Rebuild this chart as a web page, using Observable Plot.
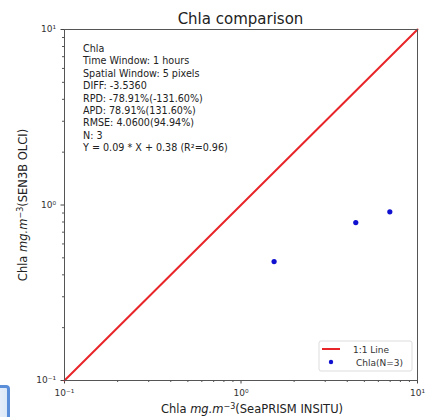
<!DOCTYPE html>
<html><head><meta charset="utf-8">
<script src="https://cdn.jsdelivr.net/npm/d3@7"></script>
<script src="https://cdn.jsdelivr.net/npm/@observablehq/plot@0.6"></script>
<style>
body{margin:0;background:#fff;font-family:"DejaVu Sans",sans-serif}
#wrap{position:relative;width:429px;height:417px;overflow:hidden}
#corner{position:absolute;left:-24px;top:385px;width:28px;height:60px;border:3px solid #5a8ed8;border-radius:4px;background:linear-gradient(90deg,#fff,#dce8f8)}
</style>
</head><body><div id="wrap"><div id="corner"></div></div>
<script>
const insitu = [1.54, 4.47, 6.97];
const satellite = [0.476, 0.794, 0.914];
const oneToOne = [0.1, 10];
const majorTicks = [0.1, 1, 10];
const majorLabels = ["10\u207B\u00B9", "10\u2070", "10\u00B9"];
const minorTicks = [0.2,0.3,0.4,0.5,0.6,0.7,0.8,0.9,2,3,4,5,6,7,8,9];
const titleText = "Chla comparison";
const statsLines = [
  "Chla",
  "Time Window: 1 hours",
  "Spatial Window: 5 pixels",
  "DIFF: -3.5360",
  "RPD: -78.91%(-131.60%)",
  "APD: 78.91%(131.60%)",
  "RMSE: 4.0600(94.94%)",
  "N: 3",
  "Y = 0.09 * X + 0.38 (R\u00B2=0.96)"
];
const legendLabels = ["1:1 Line", "Chla(N=3)"];

const points = insitu.map((x, i) => ({x, y: satellite[i]}));
const line = oneToOne.map(v => ({x: v, y: v}));
const fmt = d => majorLabels[majorTicks.indexOf(d)] ?? "";

const plot = Plot.plot({
  width: 429, height: 417,
  marginLeft: 64, marginRight: 12, marginTop: 29, marginBottom: 37,
  style: {fontFamily: "DejaVu Sans, sans-serif", background: "#fff", color: "#333"},
  x: {type: "log", domain: [0.1, 10]},
  y: {type: "log", domain: [0.1, 10]},
  marks: [
    Plot.axisX({ticks: minorTicks, tickSize: 2, tickFormat: () => "", label: null, stroke: "#555"}),
    Plot.axisY({ticks: minorTicks, tickSize: 2, tickFormat: () => "", label: null, stroke: "#555"}),
    Plot.axisX({ticks: majorTicks, tickSize: 3.5, tickPadding: 6, tickFormat: fmt, label: null, fontSize: 9, stroke: "#444"}),
    Plot.axisY({ticks: majorTicks, tickSize: 3.5, tickPadding: 5, tickFormat: fmt, label: null, fontSize: 9, stroke: "#444"}),
    Plot.line(line, {x: "x", y: "y", stroke: "#e8262a", strokeWidth: 2}),
    Plot.dot(points, {x: "x", y: "y", r: 2.6, fill: "#1010d0", stroke: null}),
    Plot.frame({stroke: "#555"})
  ]
});
document.getElementById("wrap").prepend(plot);

const svg = d3.select(plot);
svg.append("text").attr("x", 240.5).attr("y", 24).attr("text-anchor", "middle")
  .attr("font-size", 15).attr("fill", "#222").text(titleText);

const st = svg.append("text").attr("text-anchor", "start").attr("font-size", 9.6).attr("fill", "#222");
statsLines.forEach((s, i) => {
  st.append("tspan").attr("x", 83).attr("y", 52 + i * 12.4).text(s);
});

// x label
const xl = svg.append("text").attr("x", 252).attr("y", 413).attr("text-anchor", "middle").attr("font-size", 11.5).attr("fill", "#222");
xl.append("tspan").text("Chla ");
xl.append("tspan").attr("font-style", "italic").text("mg.m");
xl.append("tspan").attr("dy", -4).attr("font-size", 8).text("\u22123");
xl.append("tspan").attr("dy", 4).text("(SeaPRISM INSITU)");

const yl = svg.append("text").attr("transform", "translate(27,205) rotate(-90)").attr("text-anchor", "middle").attr("font-size", 11.5).attr("fill", "#222");
yl.append("tspan").text("Chla ");
yl.append("tspan").attr("font-style", "italic").text("mg.m");
yl.append("tspan").attr("dy", -4).attr("font-size", 8).text("\u22123");
yl.append("tspan").attr("dy", 4).text("(SEN3B OLCI)");

// legend
const lg = svg.append("g").attr("text-anchor", "start");
lg.append("rect").attr("x", 319).attr("y", 341).attr("width", 93).attr("height", 30).attr("rx", 2)
  .attr("fill", "#fff").attr("stroke", "#ddd");
lg.append("line").attr("x1", 322).attr("x2", 340).attr("y1", 349).attr("y2", 349).attr("stroke", "#e8262a").attr("stroke-width", 2);
lg.append("circle").attr("cx", 331).attr("cy", 362).attr("r", 2.2).attr("fill", "#1010d0");
lg.append("text").attr("x", 353).attr("y", 352.5).attr("font-size", 9).attr("fill", "#333").text(legendLabels[0]);
lg.append("text").attr("x", 356).attr("y", 365.5).attr("font-size", 9).attr("fill", "#333").text(legendLabels[1]);
</script>
</body></html>
